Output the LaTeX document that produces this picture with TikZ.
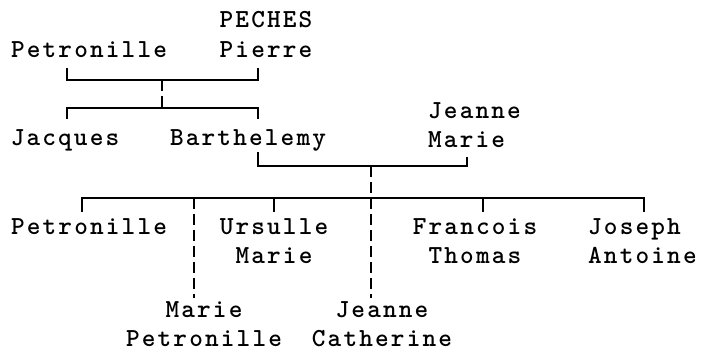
\documentclass[tikz,border=0pt]{standalone}
\usepackage{fontspec}
\newfontfamily\treefont{lmmonolt10-bold.otf}[LetterSpace=8.3]
\usetikzlibrary{positioning}

\begin{document}
\begin{tikzpicture}[x=1pt, y=-1pt,
  who/.style={font=\treefont\fontsize{26}{29}\selectfont, inner xsep=0pt, inner ysep=10pt},
  kid/.style={who, inner ysep=6pt},
  grandkid/.style={who, inner ysep=3pt, text depth=0pt},
  link/.style={line width=1.4pt},
  dropline/.style={link, dash pattern=on 11pt off 5pt}]
  \useasboundingbox (0,0) rectangle (702,353);
  % parents
  \node[who, anchor=base] (peches) at (266,28) {PECHES};
  \node[who, anchor=base] (petronilleA) at (89,58) {Petronille};
  \node[who, anchor=base] (pierre) at (266,58) {Pierre};
  % children of Pierre
  \node[who, anchor=base] (jacques) at (65,145) {Jacques};
  \node[who, anchor=base] (barthelemy) at (248,145) {Barthelemy};
  \node[who, anchor=base west, align=left] (jeanneM) at (428,147) {Jeanne\\Marie};
  % children of Barthelemy
  \node[kid, anchor=base] (petronilleB) at (89,234) {Petronille};
  \node[kid, anchor=base, align=center] (ursulle) at (274,263) {Ursulle\\Marie};
  \node[kid, anchor=base, align=center] (francois) at (475,263) {Francois\\Thomas};
  \node[kid, anchor=base west, align=left] (joseph) at (588,263) {Joseph\\Antoine};
  \node[grandkid, anchor=base, align=center] (marieP) at (204,346) {Marie\\Petronille};
  \node[grandkid, anchor=base, align=center] (jeanneC) at (382,346) {Jeanne\\Catherine};

  \coordinate (m1) at (162,80);
  \coordinate (s1) at (162,108);
  \coordinate (m2) at (371,166);
  \coordinate (s2) at (371,198);

  \draw[link] ([xshift=-22pt]petronilleA.south) |- (m1) -| ([xshift=-8pt]pierre.south);
  \draw[dropline] (m1) -- (s1);
  \draw[link] ([xshift=2pt]jacques.north) |- (s1) -| ([xshift=10pt]barthelemy.north);
  \draw[link] ([xshift=10pt,yshift=-7pt]barthelemy.base) |- (m2) -| ([xshift=39pt]jeanneM.south west);
  \draw[dropline] (m2) -- (jeanneC.north -| m2);
  \draw[link] ([xshift=-7pt]petronilleB.north) |- (s2) -| ([xshift=56pt]joseph.north west);
  \draw[link] (ursulle.north) -- (ursulle.north |- s2);
  \draw[link] ([xshift=8pt]francois.north) -- ([xshift=8pt]francois.north |- s2);
  \draw[dropline] ([xshift=-10pt]marieP.north |- s2) -- ([xshift=-10pt]marieP.north);
\end{tikzpicture}
\end{document}
